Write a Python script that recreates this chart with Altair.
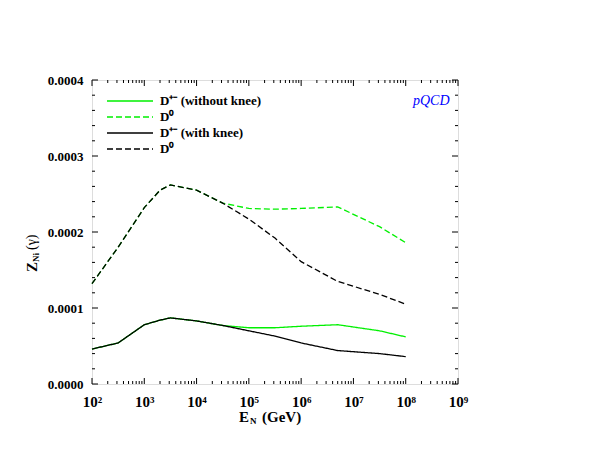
import altair as alt
import pandas as pd

# ---- data ----
E = [1e2, 3.16e2, 1e3, 2e3, 3.16e3, 1e4, 3.16e4, 1e5, 3.16e5, 1e6, 5e6, 3.16e7, 1e8]
dpm_noknee = [4.6e-5, 5.4e-5, 7.8e-5, 8.4e-5, 8.7e-5, 8.3e-5, 7.7e-5, 7.4e-5, 7.4e-5, 7.6e-5, 7.8e-5, 7.0e-5, 6.2e-5]
d0_noknee = [1.32e-4, 1.80e-4, 2.32e-4, 2.55e-4, 2.62e-4, 2.55e-4, 2.38e-4, 2.31e-4, 2.30e-4, 2.31e-4, 2.33e-4, 2.07e-4, 1.86e-4]
dpm_knee = [4.6e-5, 5.4e-5, 7.8e-5, 8.4e-5, 8.7e-5, 8.3e-5, 7.7e-5, 7.0e-5, 6.3e-5, 5.4e-5, 4.4e-5, 4.0e-5, 3.6e-5]
d0_knee = [1.32e-4, 1.80e-4, 2.32e-4, 2.55e-4, 2.62e-4, 2.55e-4, 2.38e-4, 2.17e-4, 1.92e-4, 1.61e-4, 1.35e-4, 1.18e-4, 1.05e-4]

series_keys = ["dpm_nk", "d0_nk", "dpm_k", "d0_k"]
series_labels = ["D⁺⁻ (without knee)", "D⁰", "D⁺⁻ (with knee)", "D⁰"]
series_colors = ["#00f000", "#00f000", "#000000", "#000000"]
series_dash = [[1, 0], [6, 3], [1, 0], [6, 3]]

x_major = [1e2, 1e3, 1e4, 1e5, 1e6, 1e7, 1e8, 1e9]
x_minor = [k * d for d in [1e2, 1e3, 1e4, 1e5, 1e6, 1e7, 1e8] for k in range(2, 10)]
y_major = [0.0, 1e-4, 2e-4, 3e-4, 4e-4]
y_minor = [2e-5, 4e-5, 6e-5, 8e-5, 1.2e-4, 1.4e-4, 1.6e-4, 1.8e-4,
           2.2e-4, 2.4e-4, 2.6e-4, 2.8e-4, 3.2e-4, 3.4e-4, 3.6e-4, 3.8e-4]

W, H = 366, 304
FONT = "Liberation Serif"

rows = []
for key, vals in zip(series_keys, [dpm_noknee, d0_noknee, dpm_knee, d0_knee]):
    for e, v in zip(E, vals):
        rows.append({"E": e, "Z": v, "s": key})
df = pd.DataFrame(rows)

xscale = alt.Scale(type="log", domain=[1e2, 1e9])
yscale = alt.Scale(domain=[0, 4e-4])

sup = "['⁰','¹','²','³','⁴','⁵','⁶','⁷','⁸','⁹']"
xaxis = alt.Axis(
    values=x_major, labelExpr=f"'10' + {sup}[round(log(datum.value)/LN10)]",
    ticks=False, domain=False, grid=False, title=None,
    labelFont=FONT, labelFontSize=15, labelFontWeight="bold", labelColor="black",
    labelPadding=10, labelOverlap=False, labelFlush=False,
)
yaxis = alt.Axis(
    values=y_major, format=".4f",
    ticks=False, domain=False, grid=False, title=None,
    labelFont=FONT, labelFontSize=13, labelFontWeight="bold", labelColor="black",
    labelPadding=9, labelOverlap=False, labelFlush=False,
)
X = lambda f="E:Q": alt.X(f, scale=xscale, axis=xaxis)
Y = lambda f="Z:Q": alt.Y(f, scale=yscale, axis=yaxis)

color = alt.Color("s:N", scale=alt.Scale(domain=series_keys, range=series_colors), legend=None)
dash = alt.StrokeDash("s:N", scale=alt.Scale(domain=series_keys, range=series_dash), legend=None)

base = alt.Chart(df)
green = base.transform_filter(alt.FieldOneOfPredicate(field="s", oneOf=["dpm_nk", "d0_nk"])).mark_line(
    strokeWidth=1.3).encode(x=X(), y=Y(), color=color, strokeDash=dash, detail="s:N")
black = base.transform_filter(alt.FieldOneOfPredicate(field="s", oneOf=["dpm_k", "d0_k"])).mark_line(
    strokeWidth=1.3).encode(x=X(), y=Y(), color=color, strokeDash=dash, detail="s:N")

# ---- inward ticks ----
def xticks(vals, length):
    d = pd.DataFrame({"E": vals})
    b = alt.Chart(d).mark_rule(color="black", strokeWidth=1).encode(
        x=X(), y=alt.value(H), y2=alt.value(H - length))
    t = alt.Chart(d).mark_rule(color="black", strokeWidth=1).encode(
        x=X(), y=alt.value(0), y2=alt.value(length))
    return [b, t]

def yticks(vals, length):
    d = pd.DataFrame({"Z": vals})
    l = alt.Chart(d).mark_rule(color="black", strokeWidth=1).encode(
        y=Y(), x=alt.value(0), x2=alt.value(length))
    r = alt.Chart(d).mark_rule(color="black", strokeWidth=1).encode(
        y=Y(), x=alt.value(W), x2=alt.value(W - length))
    return [l, r]

tick_layers = xticks(x_major, 6) + xticks(x_minor, 3) + yticks(y_major, 6) + yticks(y_minor, 3)

# ---- text pieces ----
def txt(s, x, y, size, angle=0, style="normal", weight="bold", color="black", align="left"):
    return alt.Chart(pd.DataFrame({"t": [s]})).mark_text(
        font=FONT, fontSize=size, fontWeight=weight, fontStyle=style, color=color,
        align=align, baseline="middle", angle=angle,
    ).encode(text="t:N", x=alt.value(x), y=alt.value(y))

# ---- legend (manual, inside plot) ----
legend_layers = []
for i, (lab, col, dsh) in enumerate(zip(series_labels, series_colors, series_dash)):
    yy = 21 + 16 * i
    legend_layers.append(
        alt.Chart(pd.DataFrame({"t": [lab]})).mark_rule(color=col, strokeWidth=1.3, strokeDash=dsh).encode(
            x=alt.value(15), x2=alt.value(61), y=alt.value(yy))
    )
    legend_layers.append(txt(lab, 68, yy, 13))

texts = [
    txt("pQCD", 321, 21, 14, style="italic", weight="normal", color="#0000ff"),
    txt("E", 147, 337, 15),
    txt("N", 158, 341, 9),
    txt("(GeV)", 170, 337, 15),
    txt("Z", -60, 192, 15, angle=270),
    txt("Ni", -56, 182, 9, angle=270),
    txt("(γ)", -60, 170, 14, angle=270, weight="normal"),
]

chart = alt.layer(green, black, *tick_layers, *legend_layers, *texts).properties(
    width=W, height=H,
    autosize=alt.AutoSizeParams(type="none"),
    padding={"left": 84, "top": 72, "right": 133, "bottom": 71},
).configure_view(stroke="black", strokeWidth=1).configure(background="white")

chart.save("out.html", embed_options={"renderer": "svg", "actions": False})
